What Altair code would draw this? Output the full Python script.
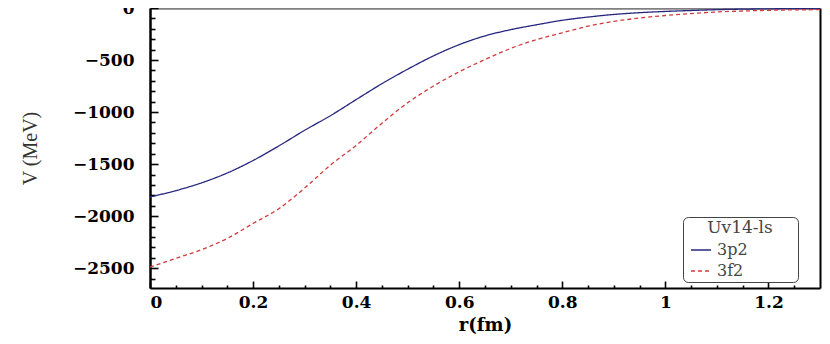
import altair as alt
import pandas as pd

# radius (fm)
r_fm = [0.00, 0.05, 0.10, 0.15, 0.20, 0.25, 0.30, 0.35, 0.40, 0.45, 0.50, 0.55, 0.60, 0.65,
        0.70, 0.75, 0.80, 0.85, 0.90, 0.95, 1.00, 1.05, 1.10, 1.15, 1.20, 1.25, 1.30]
# potential V (MeV), channel 3p2 (solid)
v_3p2 = [-1815, -1755, -1680, -1585, -1465, -1325, -1175, -1035, -880, -727, -588, -460,
         -352, -268, -208, -161, -118, -87, -62, -45, -33, -24, -16, -11, -8, -6, -5]
# potential V (MeV), channel 3f2 (dashed)
v_3f2 = [-2490, -2405, -2322, -2213, -2070, -1928, -1730, -1510, -1320, -1107, -910, -750,
         -612, -495, -388, -304, -238, -175, -129, -96, -72, -54, -38, -29, -22, -18, -16]

series_names = ["3p2", "3f2"]
series_colors = ["#27277f", "#d23a3a"]
series_dash = [[1, 0], [4, 3]]

x_major = [0, 0.2, 0.4, 0.6, 0.8, 1.0, 1.2]
x_ticks = [0, 0.05, 0.1, 0.15, 0.2, 0.25, 0.3, 0.35, 0.4, 0.45, 0.5, 0.55, 0.6, 0.65,
           0.7, 0.75, 0.8, 0.85, 0.9, 0.95, 1.0, 1.05, 1.1, 1.15, 1.2, 1.25]
y_major = [0, -500, -1000, -1500, -2000, -2500]
y_ticks = [0, -100, -200, -300, -400, -500, -600, -700, -800, -900, -1000, -1100, -1200,
           -1300, -1400, -1500, -1600, -1700, -1800, -1900, -2000, -2100, -2200, -2300,
           -2400, -2500, -2600]

rows = []
for name, vals in zip(series_names, [v_3p2, v_3f2]):
    for r, v in zip(r_fm, vals):
        rows.append({"r": r, "V": v, "series": name})
df = pd.DataFrame(rows)

xscale = alt.Scale(domain=[0, 1.3], nice=False, zero=False)
yscale = alt.Scale(domain=[-2690, 0], nice=False, zero=False)

BOLD_FONT = "DejaVu Serif"
PLAIN_FONT = "Liberation Serif"

BLANK = "\u2800"  # invisible, non-whitespace filler to widen the legend box
legend_spec = alt.Legend(
    title="Uv14-ls",
    labelExpr="datum.label + '" + BLANK * 4 + "'",
)

lines = alt.Chart(df).mark_line(strokeWidth=1.3, interpolate="monotone").encode(
    x=alt.X("r:Q", scale=xscale, axis=alt.Axis(
        orient="bottom", values=x_major, format="~g", ticks=False, tickSize=0,
        grid=False, domainColor="black", domainWidth=2,
        labelFont=BOLD_FONT, labelFontWeight="bold", labelFontSize=17, labelColor="black",
        labelPadding=6, labelBaseline="top",
        title="r(fm)", titleFont=BOLD_FONT, titleFontWeight="bold", titleFontSize=18,
        titleColor="black", titleY=37, titleBaseline="middle")),
    y=alt.Y("V:Q", scale=yscale, axis=alt.Axis(
        orient="left", values=y_major, format="d", ticks=False, tickSize=0,
        grid=False, domainColor="black", domainWidth=2.5,
        labelFont=BOLD_FONT, labelFontWeight="bold", labelFontSize=17, labelColor="black",
        labelPadding=16,
        title="V (MeV)", titleFont=PLAIN_FONT, titleFontWeight="normal", titleFontSize=20,
        titleColor="#333333", titleX=-120, titleY=140, titleBaseline="middle",
        titleAngle=270)),
    color=alt.Color("series:N", scale=alt.Scale(domain=series_names, range=series_colors),
                    legend=legend_spec),
    strokeDash=alt.StrokeDash("series:N",
                              scale=alt.Scale(domain=series_names, range=series_dash),
                              legend=legend_spec),
)

# inward-pointing ticks (axes at the left/bottom edges, ticks pointing into the plot)
ticks_layer = alt.Chart(df).mark_line(opacity=0).encode(
    x=alt.X("r:Q", scale=xscale, axis=alt.Axis(
        orient="top", offset=-280, values=x_ticks, labels=False, domain=False, grid=False,
        title=None, tickColor="black", tickWidth=1.6,
        tickSize={"condition": {"test": "abs(datum.value * 5 - round(datum.value * 5)) < 0.001",
                                "value": 7}, "value": 3})),
    y=alt.Y("V:Q", scale=yscale, axis=alt.Axis(
        orient="right", offset=-670, values=y_ticks, labels=False, domain=False, grid=False,
        title=None, tickColor="black", tickWidth=1.6,
        tickSize={"condition": {"test": "datum.value % 500 === 0", "value": 8},
                  "value": 5})),
    detail="series:N",
)

# frame: gray top edge, black right edge
frame_layer = alt.Chart(df).mark_line(opacity=0).encode(
    x=alt.X("r:Q", scale=xscale, axis=alt.Axis(
        orient="top", labels=False, ticks=False, grid=False, title=None,
        domainColor="#808080", domainWidth=2.5)),
    y=alt.Y("V:Q", scale=yscale, axis=alt.Axis(
        orient="right", labels=False, ticks=False, grid=False, title=None,
        domainColor="black", domainWidth=2)),
    detail="series:N",
)

chart = alt.layer(lines, ticks_layer, frame_layer).resolve_axis(
    x="independent", y="independent"
).properties(
    width=670, height=280,
    autosize=alt.AutoSizeParams(type="none"),
    padding={"left": 142, "top": 0, "right": 2, "bottom": 56},
).configure_view(stroke=None).configure_legend(
    orient="none", legendX=533, legendY=209,
    strokeColor="#444444", fillColor="white", cornerRadius=5, padding=3,
    titleFont="DejaVu Serif", titleFontSize=17, titleFontWeight="normal", titleColor="#444444",
    titleAnchor="middle", titleAlign="center", titlePadding=2,
    labelFont="DejaVu Serif", labelFontSize=16, labelColor="#444444",
    symbolType="stroke", symbolSize=400, symbolStrokeWidth=1.3, symbolOffset=4,
    rowPadding=2, labelOffset=5,
)

chart.save("out.html", embed_options={"renderer": "svg", "actions": False})
